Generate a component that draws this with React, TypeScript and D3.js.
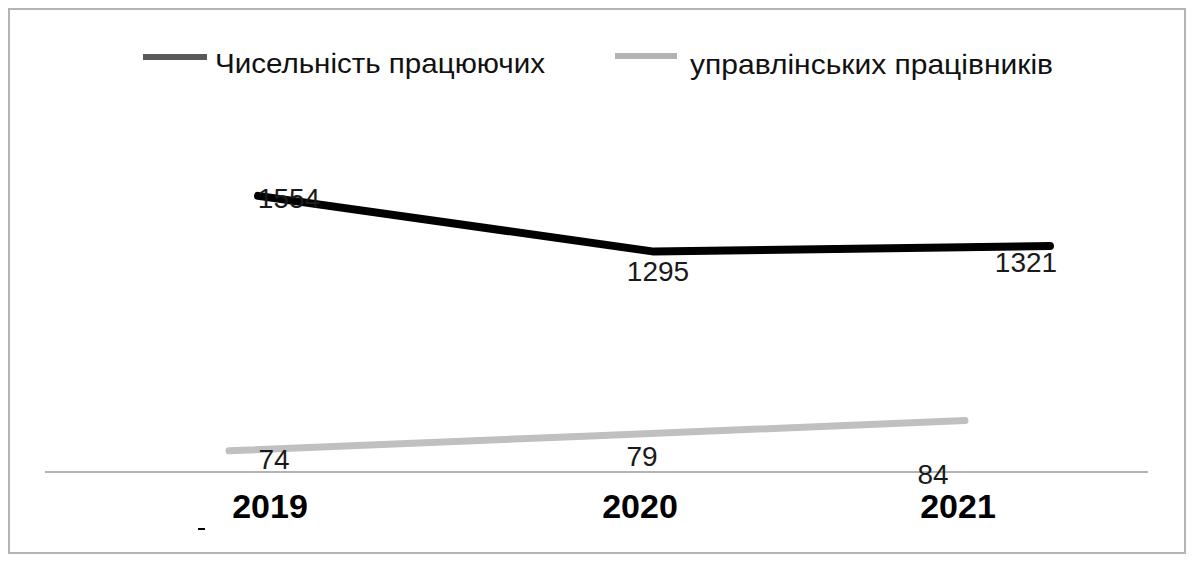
import React from "react";
import * as d3 from "d3";

// Years on the category axis
const years: string[] = ["2019", "2020", "2021"];
// Total headcount
const staffTotal: number[] = [1554, 1295, 1321];
// Management staff
const staffManagers: number[] = [74, 79, 84];

const seriesNames: string[] = ["Чисельність працюючих", "управлінських працівників"];

// Label nudges (layout only)
const totalLabelOffset: [number, number][] = [[31, 12], [4, 29], [-24, 26]];
const managerLabelOffset: [number, number][] = [[45, 18], [45, 30], [-32, 63]];
const tickNudge: number[] = [0, 26, 0];

const W = 1192;
const H = 562;
const FONT = "'Liberation Sans', Arial, sans-serif";

export default function App() {
  const axisY = 472;
  const plotTop = 100;

  // Category positions for each series and for the tick labels
  const xManagers = d3.scalePoint<string>().domain(years).range([229, 965]);
  const xTotal = d3.scalePoint<string>().domain(years).range([258, 1050]);
  const xTicks = d3.scalePoint<string>().domain(years).range([270, 958]);

  // Primary axis (total) and secondary axis (managers)
  const yTotal = d3.scaleLinear().domain([270, 2000]).range([axisY, plotTop]);
  const yManagers = d3.scaleLinear().domain([67, 190]).range([axisY, plotTop]);

  const totalPts = years.map((y, i) => [xTotal(y)!, yTotal(staffTotal[i])] as [number, number]);
  const mgrPts = years.map((y, i) => [xManagers(y)!, yManagers(staffManagers[i])] as [number, number]);

  const line = d3.line<[number, number]>();

  return (
    <svg
      width={W}
      height={H}
      style={{ position: "absolute", left: 0, top: 0, background: "#fff" }}
      fontFamily={FONT}
    >
      <rect x={0} y={0} width={W} height={H} fill="#fff" />
      {/* chart frame */}
      <rect x={9} y={9} width={1176} height={544} fill="none" stroke="#b4b4b4" strokeWidth={2} />

      {/* legend */}
      <line x1={143} x2={207} y1={57} y2={57} stroke="#595959" strokeWidth={6} />
      <text x={215} y={73} fontSize={28} fill="#111" textLength={330} lengthAdjust="spacingAndGlyphs">
        {seriesNames[0]}
      </text>
      <line x1={615} x2={677} y1={56} y2={56} stroke="#b3b3b3" strokeWidth={6} />
      <text x={690} y={74} fontSize={28} fill="#111" textLength={363} lengthAdjust="spacingAndGlyphs">
        {seriesNames[1]}
      </text>

      {/* category axis */}
      <line x1={45} x2={1148} y1={axisY} y2={axisY} stroke="#9a9a9a" strokeWidth={1.5} />
      {years.map((y, i) => (
        <text
          key={y}
          x={xTicks(y)! + tickNudge[i]}
          y={518}
          textAnchor="middle"
          fontSize={34}
          fontWeight="bold"
          fill="#000"
        >
          {y}
        </text>
      ))}
      <line x1={198} x2={205} y1={529} y2={529} stroke="#000" strokeWidth={2} />

      {/* management staff series */}
      <path
        d={line(mgrPts) || ""}
        fill="none"
        stroke="#c0c0c0"
        strokeWidth={7}
        strokeLinecap="round"
        strokeLinejoin="round"
      />
      {/* total headcount series */}
      <path
        d={line(totalPts) || ""}
        fill="none"
        stroke="#000"
        strokeWidth={8}
        strokeLinecap="round"
        strokeLinejoin="round"
      />

      {/* data labels */}
      {totalPts.map(([px, py], i) => (
        <text
          key={"t" + i}
          x={px + totalLabelOffset[i][0]}
          y={py + totalLabelOffset[i][1]}
          textAnchor="middle"
          fontSize={28}
          fill="#1a1a1a"
        >
          {staffTotal[i]}
        </text>
      ))}
      {mgrPts.map(([px, py], i) => (
        <text
          key={"m" + i}
          x={px + managerLabelOffset[i][0]}
          y={py + managerLabelOffset[i][1]}
          textAnchor="middle"
          fontSize={28}
          fill="#1a1a1a"
        >
          {staffManagers[i]}
        </text>
      ))}
    </svg>
  );
}
